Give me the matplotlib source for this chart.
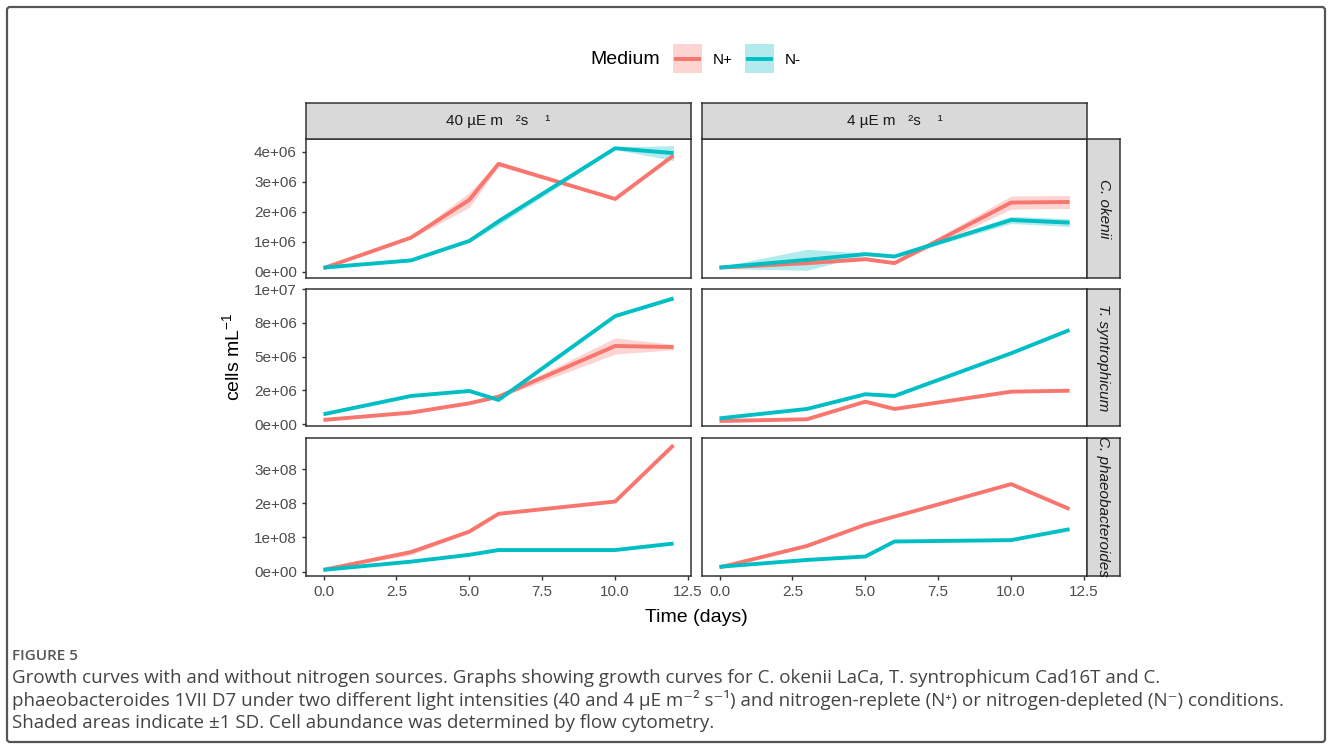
import numpy as np
import matplotlib
matplotlib.use("Agg")
import matplotlib.pyplot as plt
from matplotlib.patches import Rectangle, FancyBboxPatch

plt.rcParams['font.family'] = ['Liberation Sans', 'DejaVu Sans']
plt.rcParams['mathtext.fontset'] = 'custom'
plt.rcParams['mathtext.rm'] = 'Liberation Sans'
plt.rcParams['mathtext.it'] = 'Liberation Sans:italic'
plt.rcParams['mathtext.default'] = 'regular'

# sampling days
days = [0, 3, 5, 6, 10, 12]

# C. okenii (cells/mL)
okenii_40_np = [0.11e6, 1.13e6, 2.39e6, 3.59e6, 2.42e6, 3.87e6]
okenii_40_np_sd = [0.02e6, 0.04e6, 0.25e6, 0.08e6, 0.03e6, 0.06e6]
okenii_40_nm = [0.13e6, 0.37e6, 1.02e6, 1.67e6, 4.11e6, 3.95e6]
okenii_40_nm_sd = [0.04e6, 0.03e6, 0.04e6, 0.12e6, 0.04e6, 0.25e6]
okenii_4_np = [0.13e6, 0.28e6, 0.41e6, 0.28e6, 2.30e6, 2.32e6]
okenii_4_np_sd = [0.03e6, 0.05e6, 0.04e6, 0.04e6, 0.22e6, 0.22e6]
okenii_4_nm = [0.13e6, 0.39e6, 0.58e6, 0.50e6, 1.72e6, 1.63e6]
okenii_4_nm_sd = [0.03e6, 0.35e6, 0.04e6, 0.03e6, 0.12e6, 0.13e6]

# T. syntrophicum
tsyn_40_np = [0.32e6, 0.86e6, 1.55e6, 2.04e6, 5.79e6, 5.71e6]
tsyn_40_np_sd = [0.03e6, 0.05e6, 0.08e6, 0.10e6, 0.60e6, 0.20e6]
tsyn_40_nm = [0.74e6, 2.09e6, 2.46e6, 1.80e6, 8.00e6, 9.31e6]
tsyn_40_nm_sd = [0.03e6, 0.05e6, 0.05e6, 0.10e6, 0.05e6, 0.12e6]
tsyn_4_np = [0.24e6, 0.37e6, 1.67e6, 1.13e6, 2.41e6, 2.48e6]
tsyn_4_np_sd = [0.03e6, 0.03e6, 0.04e6, 0.03e6, 0.04e6, 0.04e6]
tsyn_4_nm = [0.44e6, 1.13e6, 2.22e6, 2.09e6, 5.25e6, 6.97e6]
tsyn_4_nm_sd = [0.03e6, 0.04e6, 0.05e6, 0.05e6, 0.05e6, 0.05e6]

# C. phaeobacteroides
phaeo_40_np = [0.05e8, 0.57e8, 1.17e8, 1.69e8, 2.05e8, 3.70e8]
phaeo_40_np_sd = [0.01e8, 0.08e8, 0.03e8, 0.02e8, 0.02e8, 0.03e8]
phaeo_40_nm = [0.05e8, 0.29e8, 0.49e8, 0.63e8, 0.63e8, 0.82e8]
phaeo_40_nm_sd = [0.01e8, 0.01e8, 0.01e8, 0.01e8, 0.01e8, 0.01e8]
phaeo_4_np = [0.12e8, 0.75e8, 1.37e8, 1.61e8, 2.56e8, 1.83e8]
phaeo_4_np_sd = [0.01e8, 0.01e8, 0.01e8, 0.01e8, 0.01e8, 0.01e8]
phaeo_4_nm = [0.14e8, 0.34e8, 0.44e8, 0.88e8, 0.92e8, 1.24e8]
phaeo_4_nm_sd = [0.01e8, 0.01e8, 0.01e8, 0.01e8, 0.01e8, 0.01e8]

light_labels = ['40 µE m   ²s    ¹', '4 µE m   ²s    ¹']
species_labels = ['C. okenii', 'T. syntrophicum', 'C. phaeobacteroides']
media = ['N+', 'N-']
colors = ['#F8766D', '#00BFC4']

x_ticks = [0.0, 2.5, 5.0, 7.5, 10.0, 12.5]
x_ticklabels = ['0.0', '2.5', '5.0', '7.5', '10.0', '12.5']
row_ticks = [[0, 1e6, 2e6, 3e6, 4e6],
             [0, 2.5e6, 5e6, 7.5e6, 1e7],
             [0, 1e8, 2e8, 3e8]]
row_ticklabels = [['0e+00', '1e+06', '2e+06', '3e+06', '4e+06'],
                  ['0e+00', '2e+06', '5e+06', '8e+06', '1e+07'],
                  ['0e+00', '1e+08', '2e+08', '3e+08']]
row_ylim = [(-0.2e6, 4.42e6), (-0.13e6, 1.0005e7), (-0.13e8, 3.91e8)]

panels = [
    [[(okenii_40_np, okenii_40_np_sd), (okenii_40_nm, okenii_40_nm_sd)],
     [(okenii_4_np, okenii_4_np_sd), (okenii_4_nm, okenii_4_nm_sd)]],
    [[(tsyn_40_np, tsyn_40_np_sd), (tsyn_40_nm, tsyn_40_nm_sd)],
     [(tsyn_4_np, tsyn_4_np_sd), (tsyn_4_nm, tsyn_4_nm_sd)]],
    [[(phaeo_40_np, phaeo_40_np_sd), (phaeo_40_nm, phaeo_40_nm_sd)],
     [(phaeo_4_np, phaeo_4_np_sd), (phaeo_4_nm, phaeo_4_nm_sd)]],
]

W, H = 1333, 749
fig = plt.figure(figsize=(W / 100, H / 100), dpi=100)


def box(l, t, r, b):
    return [l / W, 1 - b / H, (r - l) / W, (b - t) / H]


# overlay in pixel coordinates for border and legend
ov = fig.add_axes([0, 0, 1, 1], zorder=-5)
ov.set_xlim(0, W)
ov.set_ylim(H, 0)
ov.axis('off')
ov.add_patch(FancyBboxPatch((7, 7), W - 15, H - 14, boxstyle='round,pad=0,rounding_size=3',
                            fill=False, edgecolor='#555555', linewidth=1.6))

col_x = [(306, 691), (702, 1087)]
row_y = [(139, 277.5), (289, 426), (438, 576)]
edge = '#333333'

for i in range(3):
    for j in range(2):
        ax = fig.add_axes(box(col_x[j][0], row_y[i][0], col_x[j][1], row_y[i][1]))
        for k in range(2):
            m, sd = panels[i][j][k]
            m = np.array(m)
            sd = np.array(sd)
            ax.fill_between(days, m - sd, m + sd, color=colors[k], alpha=0.3, linewidth=0)
            ax.plot(days, m, color=colors[k], linewidth=2.8, solid_capstyle='butt')
        ax.set_xlim(-0.6, 12.6)
        ax.set_ylim(*row_ylim[i])
        ax.set_xticks(x_ticks)
        ax.set_yticks(row_ticks[i])
        for s in ax.spines.values():
            s.set_color(edge)
            s.set_linewidth(1.1)
        ax.tick_params(colors=edge, labelcolor='#4D4D4D', labelsize=11, length=3, width=1)
        if j == 0:
            ax.set_yticklabels(row_ticklabels[i])
        else:
            ax.tick_params(axis='y', left=False, labelleft=False)
        if i == 2:
            ax.set_xticklabels(x_ticklabels)
        else:
            ax.tick_params(axis='x', bottom=False, labelbottom=False)

# top strips
for j in range(2):
    sa = fig.add_axes(box(col_x[j][0], 103, col_x[j][1], 139))
    sa.set_xticks([])
    sa.set_yticks([])
    sa.set_facecolor('#D9D9D9')
    for s in sa.spines.values():
        s.set_color(edge)
        s.set_linewidth(1.1)
    sa.text(0.5, 0.5, light_labels[j], ha='center', va='center', fontsize=11,
            color='#1A1A1A', transform=sa.transAxes)

# right strips
for i in range(3):
    sa = fig.add_axes(box(1087, row_y[i][0], 1120, row_y[i][1]))
    sa.set_xticks([])
    sa.set_yticks([])
    sa.set_facecolor('#D9D9D9')
    for s in sa.spines.values():
        s.set_color(edge)
        s.set_linewidth(1.1)
    sa.text(0.5, 0.5, species_labels[i], ha='center', va='center', fontsize=11,
            color='#1A1A1A', rotation=-90, style='italic', transform=sa.transAxes)

# axis titles
fig.text(232 / W, 1 - 357 / H, 'cells mL$^{-1}$', rotation=90, ha='center', va='center',
         fontsize=14, color='black')
fig.text(696 / W, 1 - 618 / H, 'Time (days)', ha='center', va='center', fontsize=14,
         color='black')

# legend
ov.text(590, 60, 'Medium', ha='left', va='center', fontsize=14, color='black')
key_x = [673, 745]
for k in range(2):
    ov.add_patch(Rectangle((key_x[k], 44), 29, 29, facecolor=colors[k], alpha=0.3,
                           edgecolor='none'))
    ov.plot([key_x[k] + 1, key_x[k] + 28], [58.5, 58.5], color=colors[k], linewidth=2.8,
            solid_capstyle='butt')
    ov.text(key_x[k] + 40, 60, media[k], ha='left', va='center', fontsize=11, color='black')

# caption
cap_font = ['Open Sans', 'DejaVu Sans']
ov.text(12, 656, 'FIGURE 5', ha='left', va='center', fontsize=11, fontweight='semibold',
        color='#555555', family=cap_font)
caption_lines = [
    'Growth curves with and without nitrogen sources. Graphs showing growth curves for C. okenii LaCa, T. syntrophicum Cad16T and C.',
    'phaeobacteroides 1VII D7 under two different light intensities (40 and 4 µE m⁻² s⁻¹) and nitrogen-replete (N⁺) or nitrogen-depleted (N⁻) conditions.',
    'Shaded areas indicate ±1 SD. Cell abundance was determined by flow cytometry.',
]
for n, line in enumerate(caption_lines):
    ov.text(12, 678 + 22.5 * n, line, ha='left', va='center', fontsize=13.5, color='#444444',
            family=cap_font)

fig.savefig('out.png', dpi=100)
